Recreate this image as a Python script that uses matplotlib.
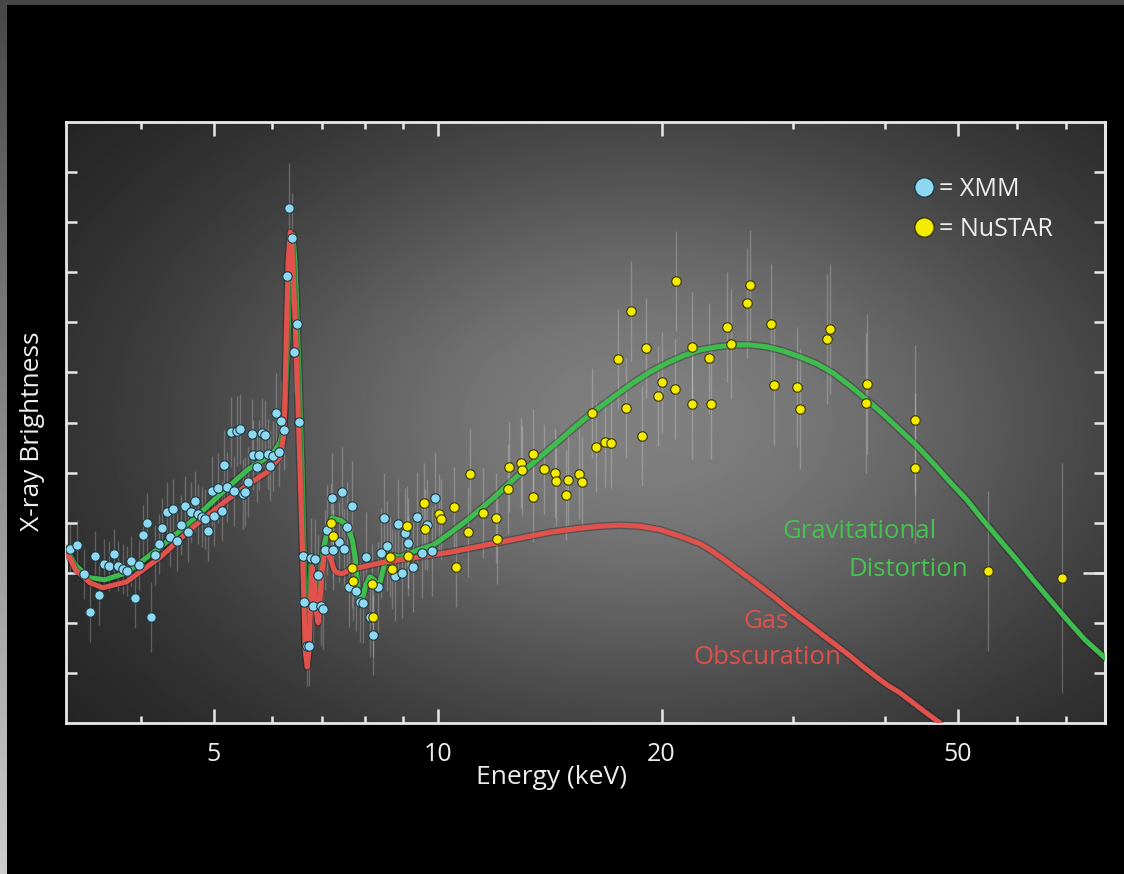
import numpy as np
import matplotlib
matplotlib.use("Agg")
import matplotlib.pyplot as plt
import matplotlib.patheffects as pe
from matplotlib.lines import Line2D

plt.rcParams['font.family'] = ['Open Sans', 'DejaVu Sans']

# ---------------- data (energy in keV, brightness in arbitrary units) ----------------
xmm_e = [3.21, 3.28, 3.35, 3.41, 3.46, 3.51, 3.56, 3.62, 3.67, 3.72, 3.78, 3.82, 3.87, 3.92,
         3.97, 4.02, 4.07, 4.12, 4.17, 4.22, 4.26, 4.33, 4.37, 4.41, 4.47, 4.52, 4.58, 4.62,
         4.66, 4.72, 4.77, 4.82, 4.87, 4.92, 4.98, 5.01, 5.07, 5.13, 5.17, 5.21, 5.28, 5.33,
         5.38, 5.43, 5.48, 5.51, 5.56, 5.63, 5.65, 5.72, 5.76, 5.81, 5.86, 5.92, 5.96, 6.01,
         6.07, 6.12, 6.16, 6.22, 6.28, 6.32, 6.37, 6.41, 6.47, 6.51, 6.60, 6.62, 6.68, 6.72,
         6.76, 6.80, 6.85, 6.91, 6.97, 7.02, 7.06, 7.10, 7.21, 7.24, 7.37, 7.44, 7.49, 7.56,
         7.60, 7.68, 7.77, 7.87, 7.94, 8.01, 8.11, 8.19, 8.32, 8.40, 8.47, 8.55, 8.77, 8.85,
         8.96, 9.04, 9.13, 9.27, 9.39, 9.53, 9.68, 9.83, 9.92]
xmm_y = [3.47, 3.55, 2.98, 2.22, 3.33, 2.56, 3.17, 3.13, 3.37, 3.13, 3.08, 3.04, 3.23, 2.50,
         3.15, 3.75, 3.99, 2.12, 3.35, 3.57, 3.89, 4.21, 3.71, 4.27, 3.63, 3.95, 4.33, 3.81,
         4.21, 4.43, 4.17, 4.11, 4.07, 3.83, 4.63, 4.13, 4.69, 4.23, 5.15, 4.71, 5.81, 4.63,
         5.83, 5.87, 4.57, 4.61, 4.81, 5.77, 5.35, 5.11, 5.35, 5.79, 5.75, 5.37, 5.13, 5.33,
         6.19, 5.41, 6.03, 5.85, 8.93, 10.28, 9.68, 7.41, 7.97, 6.01, 3.33, 2.42, 1.54, 1.54,
         3.29, 2.34, 3.27, 2.96, 2.34, 2.28, 3.45, 3.85, 4.49, 3.45, 3.61, 4.61, 3.47, 3.91,
         2.72, 4.33, 2.64, 2.42, 2.40, 3.31, 2.12, 1.76, 2.72, 3.39, 4.09, 3.53, 2.94, 3.97,
         3.00, 3.79, 3.59, 3.12, 4.11, 3.39, 3.95, 3.43, 4.49]
xmm_err = [0.5, 0.5, 0.5, 0.6, 0.5, 0.6, 0.5, 0.5, 0.5, 0.5, 0.5, 0.5, 0.5, 0.6,
           0.5, 0.6, 0.6, 0.7, 0.6, 0.6, 0.6, 0.6, 0.6, 0.6, 0.6, 0.6, 0.6, 0.6,
           0.6, 0.6, 0.6, 0.6, 0.6, 0.6, 0.7, 0.6, 0.7, 0.6, 0.7, 0.7, 0.7, 0.7,
           0.7, 0.7, 0.7, 0.7, 0.7, 0.7, 0.7, 0.7, 0.7, 0.7, 0.7, 0.7, 0.7, 0.7,
           0.8, 0.7, 0.8, 0.8, 0.8, 0.9, 0.9, 0.8, 0.8, 0.8, 0.8, 0.8, 0.8, 0.8,
           0.8, 0.8, 0.8, 0.8, 0.8, 0.8, 0.8, 0.9, 0.9, 0.8, 0.8, 0.9, 0.8, 0.9,
           0.8, 0.9, 0.8, 0.8, 0.8, 0.9, 0.8, 0.8, 0.9, 0.9, 0.9, 0.9, 0.9, 0.9,
           0.9, 0.9, 0.9, 0.9, 0.9, 0.9, 0.9, 0.9, 0.9]

nustar_e = [7.19, 7.24, 7.68, 7.70, 8.17, 8.19, 8.63, 8.69, 9.10, 9.13, 9.59, 9.62, 10.05,
            10.11, 10.52, 10.59, 10.99, 11.06, 11.51, 11.99, 12.02, 12.44, 12.48, 12.95,
            12.99, 13.44, 13.44, 13.90, 14.39, 14.43, 14.88, 14.98, 15.49, 15.64, 16.13,
            16.33, 16.79, 17.11, 17.48, 17.92, 18.20, 18.83, 19.07, 19.79, 20.03, 20.86,
            20.92, 21.98, 21.98, 23.17, 23.32, 24.50, 24.80, 26.06, 26.31, 28.07, 28.33,
            30.42, 30.71, 33.38, 33.69, 37.67, 37.78, 43.84, 43.84, 54.94, 69.08]
nustar_y = [3.99, 3.73, 3.10, 2.84, 2.78, 2.12, 3.31, 3.08, 3.93, 3.33, 4.39, 3.87, 4.17,
            4.07, 4.31, 3.12, 3.81, 4.97, 4.19, 4.09, 3.67, 4.67, 5.11, 5.19,
            5.05, 5.37, 4.51, 5.07, 4.99, 4.83, 4.55, 4.85, 4.97, 4.81, 6.19,
            5.51, 5.61, 5.59, 7.27, 6.29, 8.23, 5.73, 7.49, 6.53, 6.81, 6.67,
            8.83, 7.51, 6.37, 7.29, 6.37, 7.91, 7.57, 8.39, 8.75, 7.97, 6.75,
            6.71, 6.27, 7.67, 7.87, 6.39, 6.77, 6.05, 5.09, 3.04, 2.90]
nustar_err = [0.8, 0.8, 0.8, 0.8, 0.8, 0.8, 0.8, 0.8, 0.8, 0.8, 0.8, 0.8, 0.8,
              0.8, 0.8, 0.8, 0.9, 0.9, 0.9, 0.9, 0.9, 0.9, 0.9, 0.9,
              0.9, 0.9, 0.9, 0.9, 0.9, 0.9, 0.9, 0.9, 0.9, 0.9, 0.9,
              0.9, 0.9, 0.9, 1.0, 1.0, 1.0, 1.0, 1.0, 1.0, 1.0, 1.0,
              1.0, 1.1, 1.1, 1.1, 1.1, 1.1, 1.1, 1.1, 1.1, 1.2, 1.2,
              1.2, 1.2, 1.3, 1.3, 1.4, 1.4, 1.5, 1.5, 1.6, 2.3]

grav_e = [3.17, 3.26, 3.41, 3.57, 3.82, 4.24, 4.69, 5.21, 5.55, 5.77, 6.01, 6.14, 6.22,
          6.30, 6.36, 6.39, 6.43, 6.47, 6.53, 6.57, 6.62, 6.64, 6.70, 6.76, 6.82, 6.89,
          6.95, 7.04, 7.13, 7.21, 7.40, 7.56, 7.68, 7.75, 7.82, 7.92, 8.01, 8.11, 8.22,
          8.32, 8.42, 8.50, 8.63, 8.90, 9.39, 9.86, 10.39, 10.96, 11.51, 12.13, 12.75,
          13.44, 14.03, 14.61, 15.35, 16.13, 17.16, 18.31, 19.30, 20.35, 21.38, 22.53,
          23.75, 24.96, 26.31, 27.73, 29.13, 30.71, 32.37, 34.01, 35.85, 37.78, 39.70,
          41.85, 44.11, 46.35, 48.85, 51.49, 54.10, 57.03, 60.11, 63.16, 66.56, 70.16,
          74.18, 78.9]
grav_y = [3.49, 3.15, 2.90, 2.86, 3.00, 3.51, 4.05, 4.69, 5.05, 5.21, 5.39, 5.59, 5.91,
          7.85, 9.44, 9.76, 9.25, 8.19, 6.45, 5.19, 3.25, 1.56, 2.46, 3.15, 2.86, 2.46,
          2.96, 3.55, 3.89, 4.09, 4.05, 3.95, 3.65, 3.31, 2.66, 2.46, 2.76, 2.92, 2.86,
          2.66, 2.96, 3.21, 3.35, 3.31, 3.45, 3.55, 3.79, 4.05, 4.31, 4.61, 4.91,
          5.19, 5.43, 5.65, 5.93, 6.19, 6.49, 6.79, 7.01, 7.19, 7.33, 7.45,
          7.51, 7.55, 7.55, 7.51, 7.43, 7.31, 7.17, 6.99, 6.73, 6.45, 6.17,
          5.85, 5.53, 5.19, 4.81, 4.45, 4.05, 3.65, 3.25, 2.86, 2.46, 2.06,
          1.66, 1.30]

gas_e = [3.17, 3.26, 3.41, 3.55, 3.82, 4.24, 4.69, 5.21, 5.55, 5.90, 6.14, 6.22, 6.26,
         6.30, 6.34, 6.37, 6.43, 6.49, 6.53, 6.60, 6.64, 6.68, 6.72, 6.76, 6.78, 6.82,
         6.87, 6.91, 6.95, 7.00, 7.06, 7.17, 7.26, 7.33, 7.44, 7.63, 8.45, 9.39, 10.39,
         11.23, 12.13, 13.11, 14.17, 15.54, 16.53, 17.59, 18.71, 19.91, 21.18, 22.53,
         23.24, 24.35, 25.27, 26.31, 27.30, 28.42, 29.50, 30.71, 31.87, 33.18, 34.43,
         35.85, 37.20, 38.73, 40.20, 41.85, 43.43, 45.22, 47.36]
gas_y = [3.45, 3.06, 2.80, 2.70, 2.82, 3.31, 3.91, 4.45, 4.75, 5.01, 5.31, 5.79, 7.65,
         9.25, 9.80, 9.54, 8.19, 6.45, 5.19, 2.86, 1.46, 1.12, 1.46, 2.66, 3.12, 2.86,
         2.26, 2.00, 2.46, 3.06, 3.45, 3.31, 3.06, 3.00, 2.98, 3.06, 3.21, 3.31, 3.41,
         3.51, 3.61, 3.71, 3.81, 3.89, 3.93, 3.95, 3.93, 3.86, 3.73, 3.58,
         3.46, 3.25, 3.07, 2.88, 2.70, 2.50, 2.30, 2.10, 1.92, 1.72, 1.54,
         1.34, 1.14, 0.94, 0.76, 0.60, 0.42, 0.22, 0.0]

x_major = [5, 10, 20, 50]
x_minor = [4, 6, 7, 8, 9, 30, 40, 60, 70]
y_ticks = [1, 2, 3, 4, 5, 6, 7, 8, 9, 10, 11]
y_long_tick = [3]

W, H = 1124, 874
fig = plt.figure(figsize=(W / 100, H / 100), dpi=100, facecolor='black')

# grey edges of the original frame
strip = fig.add_axes([0, 0, 7 / W, 1])
strip.imshow(np.linspace(0.28, 0.8, 200)[:, None], cmap='gray', vmin=0, vmax=1, aspect='auto')
strip.axis('off')
top = fig.add_axes([0, 1 - 5 / H, 1, 5 / H])
top.set_facecolor('#464646')
top.set_xticks([]); top.set_yticks([])
for s in top.spines.values():
    s.set_visible(False)

pos = [66 / W, 1 - 723 / H, (1105 - 66) / W, (723 - 122) / H]

# radial grey background
bg = fig.add_axes(pos)
gx, gy = np.meshgrid(np.linspace(0, 1, 400), np.linspace(0, 1, 300))
r2 = ((gx - 0.56) / 0.55) ** 2 + ((gy - 0.50) / 0.62) ** 2
shade = 0.10 + 0.40 * np.exp(-1.3 * r2)
bg.imshow(shade, cmap='gray', vmin=0, vmax=1, aspect='auto', origin='lower')
bg.axis('off')

ax = fig.add_axes(pos)
ax.set_facecolor('none')
ax.set_xscale('log')

ax.errorbar(xmm_e, xmm_y, yerr=xmm_err, fmt='none', ecolor=(1, 1, 1, 0.22), elinewidth=1, capsize=0)
ax.errorbar(nustar_e, nustar_y, yerr=nustar_err, fmt='none', ecolor=(1, 1, 1, 0.22), elinewidth=1, capsize=0)

shadow = [pe.Stroke(linewidth=5.6, foreground='#111111', alpha=0.3), pe.Normal()]
ax.plot(grav_e, grav_y, color='#3ebd4e', lw=3.6, solid_capstyle='round', solid_joinstyle='round',
        path_effects=shadow, zorder=3)
ax.plot(gas_e, gas_y, color='#e2524d', lw=3.6, solid_capstyle='round', solid_joinstyle='round',
        path_effects=shadow, zorder=3)

ax.plot(xmm_e, xmm_y, 'o', ms=6.8, mfc='#8ed8f2', mec='#1d3a44', mew=0.8, zorder=4)
ax.plot(nustar_e, nustar_y, 'o', ms=6.8, mfc='#f4ec00', mec='#3a3500', mew=0.8, zorder=5)

ax.set_xlim(3.167, 78.9)
ax.set_ylim(0, 12)

ax.set_xticks(x_major)
ax.set_xticklabels([str(v) for v in x_major])
ax.set_xticks(x_minor, minor=True)
ax.set_xticklabels([], minor=True)
ax.set_yticks(y_ticks)
ax.set_yticklabels([])

ax.tick_params(axis='x', which='major', direction='in', length=10, width=1.8, color='#e8e8e8',
               top=True, bottom=True, labelsize=18, labelcolor='#eeeeee', pad=14)
ax.tick_params(axis='x', which='minor', direction='in', length=5, width=1.8, color='#e8e8e8',
               top=True, bottom=True)
ax.tick_params(axis='y', which='major', direction='in', length=8, width=1.8, color='#e8e8e8',
               left=True, right=True)
for s in ax.spines.values():
    s.set_color('#e8e8e8')
    s.set_linewidth(2)

# one longer tick on the right edge
sec = ax.secondary_yaxis('right')
sec.set_yticks(y_long_tick)
sec.set_yticklabels([])
sec.tick_params(direction='in', length=16, width=1.8, color='#e8e8e8')
sec.spines['right'].set_color('#e8e8e8')
sec.spines['right'].set_linewidth(2)

fig.text(33 / W, 1 - 431 / H, 'X-ray Brightness', rotation=90, ha='center', va='center',
         color='#eeeeee', fontsize=19)
fig.text(551 / W, 1 - 777 / H, 'Energy (keV)', ha='center', va='center', color='#eeeeee', fontsize=19)

fig.text(860 / W, 1 - 532 / H, 'Gravitational', color='#45c24f', fontsize=18.5, ha='center', va='center')
fig.text(908 / W, 1 - 569 / H, 'Distortion', color='#45c24f', fontsize=18.5, ha='center', va='center')
fig.text(766 / W, 1 - 622 / H, 'Gas', color='#e0504c', fontsize=18.5, ha='center', va='center')
fig.text(767 / W, 1 - 657 / H, 'Obscuration', color='#e0504c', fontsize=18.5, ha='center', va='center')

handles = [Line2D([], [], ls='none', marker='o', ms=14, mfc='#8ed8f2', mec='#1d3a44', mew=1),
           Line2D([], [], ls='none', marker='o', ms=14, mfc='#f4ec00', mec='#3a3500', mew=1)]
leg = ax.legend(handles, ['= XMM', '= NuSTAR'], loc='upper left', bbox_to_anchor=(0.805, 0.925),
                frameon=False, handlelength=0.9, handletextpad=0.15, labelspacing=0.6,
                fontsize=18, labelcolor='#eeeeee', borderaxespad=0)

fig.savefig('out.png', dpi=100, facecolor='black')
